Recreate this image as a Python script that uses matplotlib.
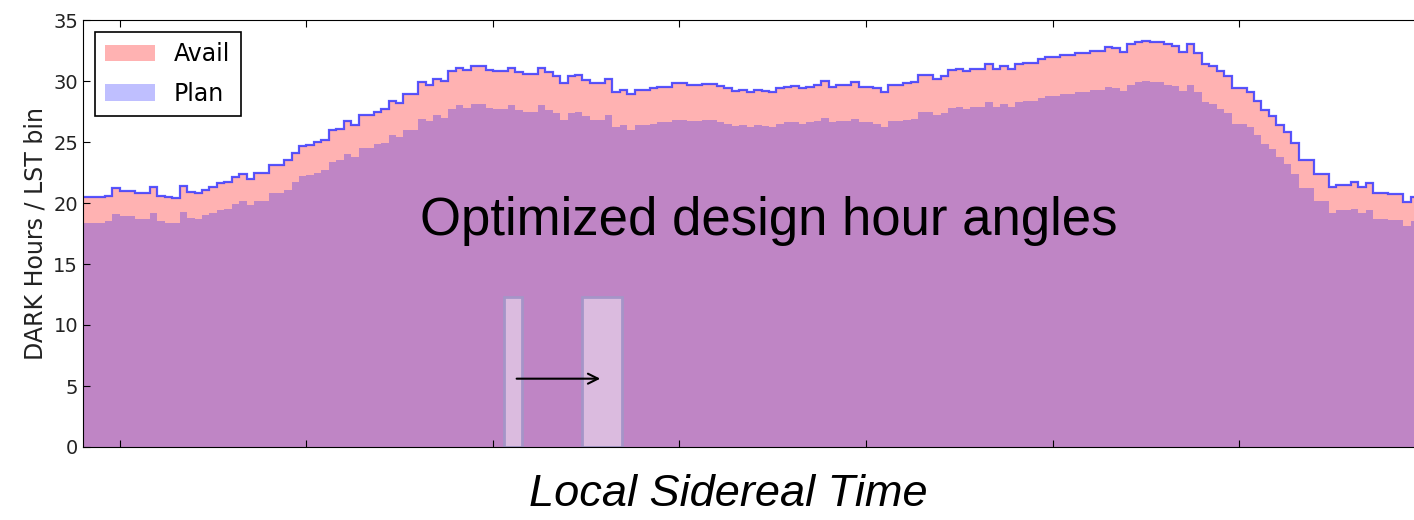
import matplotlib.pyplot as plt
import numpy as np

# DARK hours per LST bin (2 deg bins)
avail = [20.5, 20.5, 20.5, 20.6, 21.2, 21.0, 21.0, 20.8, 20.8, 21.3,
         20.6, 20.5, 20.4, 21.4, 20.9, 20.8, 21.1, 21.3, 21.6, 21.7,
         22.1, 22.4, 22.0, 22.5, 22.5, 23.1, 23.1, 23.5, 24.1, 24.7,
         24.75, 25.0, 25.2, 26.0, 26.1, 26.7, 26.4, 27.2, 27.2, 27.5,
         27.7, 28.4, 28.2, 28.9, 28.9, 29.9, 29.7, 30.2, 30.0, 30.8,
         31.1, 30.9, 31.2, 31.2, 30.9, 30.8, 30.8, 31.1, 30.7, 30.6,
         30.6, 31.1, 30.7, 30.4, 29.8, 30.4, 30.5, 30.1, 29.8, 29.8,
         30.2, 29.1, 29.3, 28.9, 29.3, 29.3, 29.4, 29.5, 29.5, 29.8,
         29.8, 29.7, 29.7, 29.75, 29.75, 29.6, 29.4, 29.2, 29.3, 29.1,
         29.3, 29.2, 29.1, 29.4, 29.5, 29.6, 29.4, 29.5, 29.7, 30.0,
         29.5, 29.7, 29.7, 29.9, 29.5, 29.5, 29.4, 29.1, 29.7, 29.7,
         29.8, 29.9, 30.5, 30.5, 30.2, 30.4, 30.9, 31.0, 30.8, 31.0,
         31.0, 31.4, 31.0, 31.2, 31.0, 31.4, 31.5, 31.5, 31.8, 32.0,
         32.0, 32.1, 32.1, 32.3, 32.3, 32.5, 32.5, 32.8, 32.7, 32.4,
         33.0, 33.2, 33.3, 33.2, 33.2, 33.0, 32.9, 32.4, 33.0, 32.3,
         31.4, 31.2, 30.8, 30.4, 29.4, 29.4, 29.1, 28.4, 27.6, 27.1,
         26.4, 25.8, 24.9, 23.5, 23.5, 22.4, 22.4, 21.3, 21.5, 21.5,
         21.7, 21.3, 21.6, 20.8, 20.8, 20.7, 20.7, 20.1, 20.5]

plan = [18.4, 18.4, 18.4, 18.5, 19.1, 18.9, 18.9, 18.7, 18.7, 19.2,
        18.5, 18.4, 18.4, 19.3, 18.8, 18.7, 19.0, 19.2, 19.4, 19.5,
        19.9, 20.2, 19.8, 20.2, 20.2, 20.8, 20.8, 21.1, 21.7, 22.2,
        22.3, 22.5, 22.7, 23.4, 23.5, 24.0, 23.8, 24.5, 24.5, 24.8,
        24.9, 25.6, 25.4, 26.0, 26.0, 26.9, 26.7, 27.2, 27.0, 27.7,
        28.0, 27.8, 28.1, 28.1, 27.8, 27.7, 27.7, 28.0, 27.6, 27.5,
        27.5, 28.0, 27.6, 27.4, 26.8, 27.4, 27.5, 27.1, 26.8, 26.8,
        27.2, 26.2, 26.4, 26.0, 26.4, 26.4, 26.5, 26.6, 26.6, 26.8,
        26.8, 26.7, 26.7, 26.8, 26.8, 26.6, 26.5, 26.3, 26.4, 26.2,
        26.4, 26.3, 26.2, 26.5, 26.6, 26.6, 26.5, 26.6, 26.7, 27.0,
        26.6, 26.7, 26.7, 26.9, 26.6, 26.6, 26.5, 26.2, 26.7, 26.7,
        26.8, 26.9, 27.5, 27.5, 27.2, 27.4, 27.8, 27.9, 27.7, 27.9,
        27.9, 28.3, 27.9, 28.1, 27.9, 28.3, 28.4, 28.4, 28.6, 28.8,
        28.8, 28.9, 28.9, 29.1, 29.1, 29.3, 29.3, 29.5, 29.4, 29.2,
        29.7, 29.9, 30.0, 29.9, 29.9, 29.7, 29.6, 29.2, 29.7, 29.1,
        28.3, 28.1, 27.7, 27.4, 26.5, 26.5, 26.2, 25.6, 24.8, 24.4,
        23.8, 23.2, 22.4, 21.2, 21.2, 20.2, 20.2, 19.2, 19.4, 19.4,
        19.5, 19.2, 19.4, 18.7, 18.7, 18.6, 18.6, 18.1, 18.5]

lst_start = -10     # first bin edge (deg)
bin_width = 2
edges = lst_start + bin_width * np.arange(len(avail) + 1)

xticks = [0, 50, 100, 150, 200, 250, 300]
yticks = [0, 5, 10, 15, 20, 25, 30, 35]

fig = plt.figure(figsize=(14.14, 5.2), dpi=100)
ax = fig.add_axes([83/1414, 73/520, 1331/1414, 427/520])

ax.stairs(avail, edges, fill=True, color='red', alpha=0.3, lw=0, label='Avail')
ax.stairs(plan, edges, fill=True, color='blue', alpha=0.25, lw=0, label='Plan')
ax.stairs(avail, edges, baseline=None, color='#3a3aff', lw=1.6, alpha=0.85)

# moved design window
box_face = (1, 1, 1, 0.45)
ax.bar(105.3, 12.3, width=4.8, bottom=0, color=box_face,
       edgecolor='#a595c8', lw=2)
ax.bar(129.2, 12.3, width=10.7, bottom=0, color=box_face,
       edgecolor='#a595c8', lw=2)
ax.annotate('', xy=(129.5, 5.6), xytext=(105.6, 5.6),
            arrowprops=dict(arrowstyle='->', color='black', lw=1.5,
                            mutation_scale=18))

ax.text(174, 18.5, 'Optimized design hour angles', fontsize=38,
        family='Liberation Sans', ha='center', va='center')

ax.set_xlim(-9.9, 346.9)
ax.set_ylim(0, 35)
ax.set_xticks(xticks)
ax.set_xticklabels([])
ax.set_yticks(yticks)
ax.tick_params(direction='in', top=True, right=False, length=5,
               labelsize=14, labelcolor='#222222')
ax.spines['right'].set_visible(False)
ax.set_ylabel('DARK Hours / LST bin', fontsize=17, color='#222222')

leg = ax.legend(loc='upper left', fontsize=17, fancybox=False,
                edgecolor='black', framealpha=1, handlelength=2.1,
                labelspacing=0.65, borderpad=0.45,
                bbox_to_anchor=(0.0, 1.0))
leg.get_frame().set_linewidth(1.2)

fig.text(728/1414, 1 - 495/520, 'Local Sidereal Time', fontsize=32.5,
         style='italic', family='Liberation Sans', ha='center', va='center')

fig.savefig('out.png', dpi=100)
